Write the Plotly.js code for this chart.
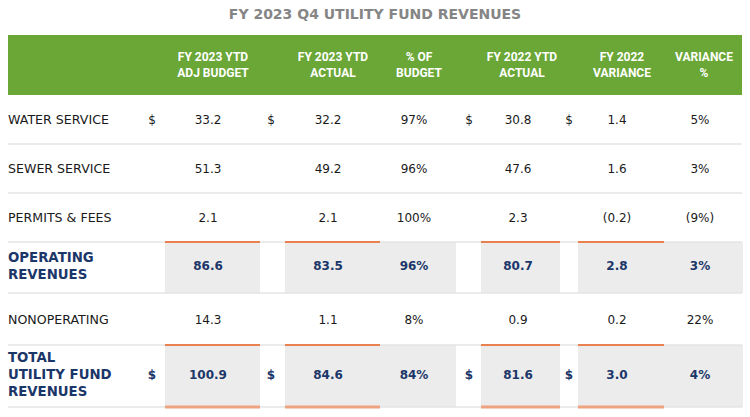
<!DOCTYPE html>
<html>
<head>
<meta charset="utf-8">
<script src="https://cdn.plot.ly/plotly-3.0.1.min.js"></script>
<style>html,body{margin:0;padding:0;background:#fff;}#chart{width:750px;height:417px;}</style>
</head>
<body>
<div id="chart"></div>
<script>
// ---------- DATA ----------
const rowLabels = ["WATER SERVICE", "SEWER SERVICE", "PERMITS & FEES", "OPERATING<br>REVENUES", "NONOPERATING", "TOTAL<br>UTILITY FUND<br>REVENUES"];
const columnHeaders = ["FY 2023 YTD<br>ADJ BUDGET", "FY 2023 YTD<br>ACTUAL", "% OF<br>BUDGET", "FY 2022 YTD<br>ACTUAL", "FY 2022<br>VARIANCE", "VARIANCE<br>%"];
const budget2023 = [33.2, 51.3, 2.1, 86.6, 14.3, 100.9];
const actual2023 = [32.2, 49.2, 2.1, 83.5, 1.1, 84.6];
const pctOfBudget = [97, 96, 100, 96, 8, 84];
const actual2022 = [30.8, 47.6, 2.3, 80.7, 0.9, 81.6];
const variance2022 = [1.4, 1.6, -0.2, 2.8, 0.2, 3.0];
const variancePct = [5, 3, -9, 3, 22, 4];
const showDollar = [true, false, false, false, false, true];
const isTotalRow = [false, false, false, true, false, true];
const columnIsPercent = [false, false, true, false, false, true];

// ---------- LAYOUT GEOMETRY (pixel-like axis units) ----------
const W = 750, H = 417;
const tableLeft = 8, tableRight = 742;
const headerTop = 35, headerBottom = 95;
const rowEdges = [95, 144, 193, 242, 293, 345, 407];
const labelX = 8;
const valueCenters = [208, 328, 414, 518, 617, 700];
const headerCenters = [213, 333, 419, 522, 622, 704];
const dollarX = [152, 271, null, 469, 569, null];
const bandEdges = [[165, 260], [285, 380], [380, 456], [481, 560], [578, 664], [664, 743]];
const bandOrange = [true, true, false, true, true, false];

const GREEN = "#6aa737", NAVY = "#1b3668", GRAY = "#ececec", SEP = "#e4e4e4";
const ORANGE = "#e8814f", ORANGE_LIGHT = "#eea27f", BLACK = "#1a1a1a";

const valueCols = [budget2023, actual2023, pctOfBudget, actual2022, variance2022, variancePct];

function fmt(v, isPct) {
  if (isPct) return v < 0 ? "(" + Math.abs(v) + "%)" : v + "%";
  return v < 0 ? "(" + Math.abs(v).toFixed(1) + ")" : v.toFixed(1);
}

const rowCenter = i => (rowEdges[i] + rowEdges[i + 1]) / 2;

// ---------- TRACES ----------
const traces = [];
[false, true].forEach(bold => {
  const xs = [], ys = [], ts = [];
  const lx = [], ly = [], lt = [];
  rowLabels.forEach((lab, i) => {
    if (isTotalRow[i] !== bold) return;
    const yc = rowCenter(i) + (bold ? -0.5 : 1.5);
    lx.push(labelX); ly.push(yc); lt.push(lab);
    valueCols.forEach((col, c) => {
      xs.push(valueCenters[c]); ys.push(yc); ts.push(fmt(col[i], columnIsPercent[c]));
      if (showDollar[i] && dollarX[c] !== null) {
        xs.push(dollarX[c]); ys.push(yc); ts.push("$");
      }
    });
  });
  traces.push({
    type: "scatter", mode: "text", x: xs, y: ys, text: ts,
    textposition: "middle center", hoverinfo: "skip", showlegend: false,
    textfont: { family: "DejaVu Sans", size: 12, color: bold ? NAVY : BLACK, weight: bold ? "bold" : "normal" }
  });
  traces.push({
    type: "scatter", mode: "text", x: lx, y: ly, text: lt,
    textposition: "middle right", hoverinfo: "skip", showlegend: false,
    textfont: { family: "DejaVu Sans", size: bold ? 13.3 : 12.6, color: bold ? NAVY : BLACK, weight: bold ? "bold" : "normal" }
  });
});
traces.push({
  type: "scatter", mode: "text", x: headerCenters, y: headerCenters.map(() => (headerTop + headerBottom) / 2 + 1),
  text: columnHeaders, textposition: "middle center", hoverinfo: "skip", showlegend: false,
  textfont: { family: "Roboto", size: 12, color: "#ffffff", weight: "bold" }
});

// ---------- SHAPES ----------
const shapes = [];
shapes.push({ type: "rect", xref: "x", yref: "y", x0: tableLeft, x1: tableRight, y0: headerTop, y1: headerBottom, fillcolor: GREEN, line: { width: 0 }, layer: "below" });
isTotalRow.forEach((t, i) => {
  if (!t) return;
  bandEdges.forEach(b => shapes.push({ type: "rect", xref: "x", yref: "y", x0: b[0], x1: b[1], y0: rowEdges[i], y1: rowEdges[i + 1], fillcolor: GRAY, line: { width: 0 }, layer: "below" }));
});
rowEdges.slice(1).forEach(y => shapes.push({ type: "line", xref: "x", yref: "y", x0: tableLeft, x1: tableRight, y0: y, y1: y, line: { color: SEP, width: 1.5 }, layer: "below" }));
isTotalRow.forEach((t, i) => {
  if (!t) return;
  bandEdges.forEach((b, c) => {
    if (!bandOrange[c]) return;
    shapes.push({ type: "line", xref: "x", yref: "y", x0: b[0], x1: b[1], y0: rowEdges[i], y1: rowEdges[i], line: { color: ORANGE, width: 2 }, layer: "below" });
    if (i === rowLabels.length - 1) {
      shapes.push({ type: "line", xref: "x", yref: "y", x0: b[0], x1: b[1], y0: rowEdges[i + 1], y1: rowEdges[i + 1], line: { color: ORANGE_LIGHT, width: 3 }, layer: "below" });
    }
  });
});

const layout = {
  width: W, height: H,
  margin: { l: 0, r: 0, t: 0, b: 0 },
  paper_bgcolor: "#ffffff", plot_bgcolor: "#ffffff",
  title: { text: "FY 2023 Q4 UTILITY FUND REVENUES", x: 0.5, xanchor: "center", xref: "paper", y: 1 - 14 / H, yref: "container", yanchor: "middle",
    font: { family: "DejaVu Sans", size: 14, color: "#858585", weight: "bold" } },
  xaxis: { range: [0, W], visible: false, fixedrange: true },
  yaxis: { range: [H, 0], visible: false, fixedrange: true },
  shapes: shapes,
  showlegend: false
};

Plotly.newPlot("chart", traces, layout, { displayModeBar: false, staticPlot: true });
</script>
</body>
</html>
